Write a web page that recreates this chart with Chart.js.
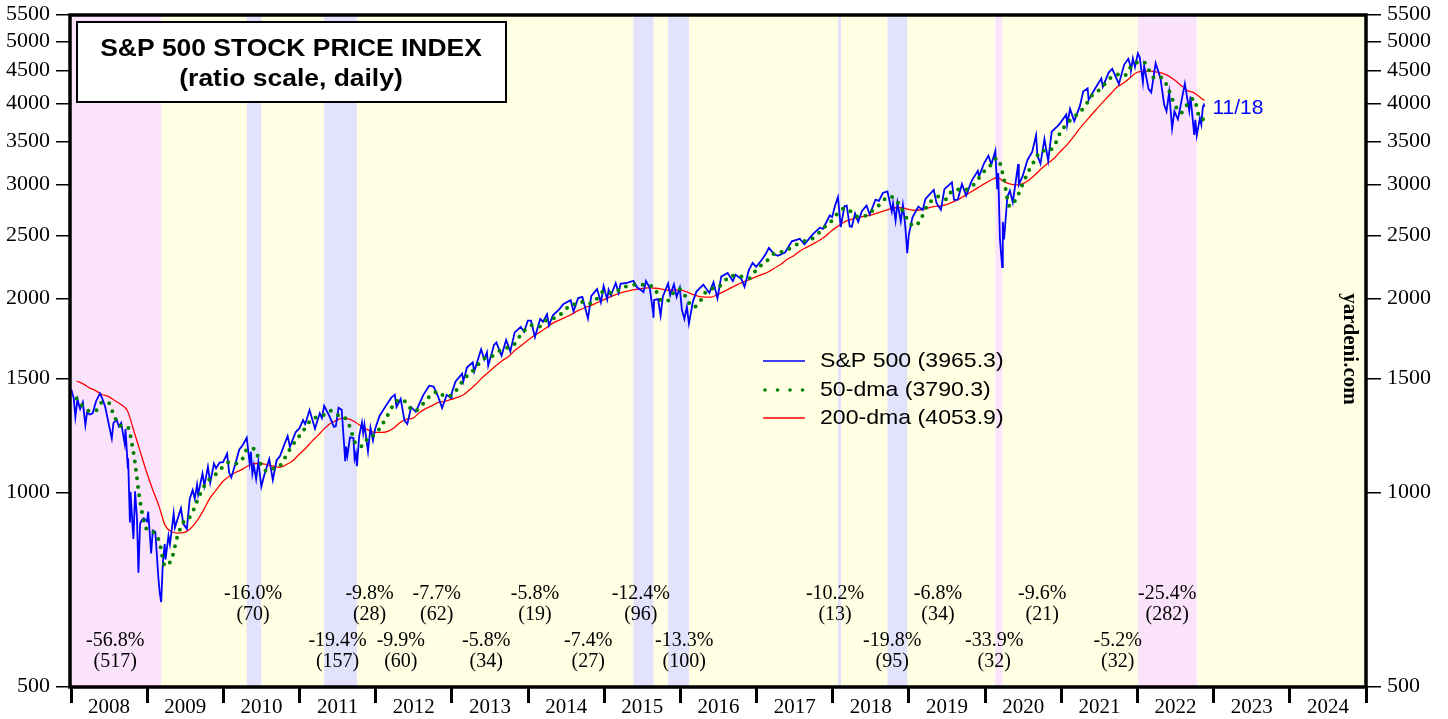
<!DOCTYPE html>
<html>
<head>
<meta charset="utf-8">
<script src="https://cdn.jsdelivr.net/npm/chart.js@4/dist/chart.umd.min.js"></script>
<style>
  html, body { margin: 0; padding: 0; background: #fff; }
  canvas { display: block; }
</style>
</head>
<body>
<canvas id="chart" width="1448" height="719"></canvas>
<script>
// S&P 500 Tageskurse (Stichproben)
const spxPoints = [
  ['2008-01-02',1447],['2008-01-14',1402],['2008-01-22',1310],['2008-02-01',1395],['2008-02-14',1348],['2008-02-27',1381],
  ['2008-03-10',1273],['2008-03-18',1330],['2008-03-31',1322],['2008-04-14',1328],['2008-04-30',1385],['2008-05-19',1426],
  ['2008-05-30',1400],['2008-06-13',1360],['2008-06-30',1280],['2008-07-15',1214],['2008-07-23',1283],['2008-08-08',1296],
  ['2008-08-18',1267],['2008-08-29',1283],['2008-09-15',1192],['2008-09-19',1255],['2008-09-29',1106],['2008-10-02',1114],
  ['2008-10-10',899],['2008-10-13',1003],['2008-10-22',896],['2008-10-27',848],['2008-11-04',1005],['2008-11-13',911],
  ['2008-11-20',752],['2008-11-28',896],['2008-12-08',909],['2008-12-16',913],['2008-12-31',903],
  ['2009-01-06',935],['2009-01-20',805],['2009-01-28',874],['2009-02-09',870],['2009-02-23',743],['2009-03-02',700],
  ['2009-03-09',677],['2009-03-17',778],['2009-03-26',833],['2009-03-30',788],['2009-04-13',858],['2009-04-20',832],
  ['2009-05-08',929],['2009-05-14',883],['2009-06-12',946],['2009-06-23',895],['2009-07-10',879],['2009-07-24',979],
  ['2009-08-07',1010],['2009-08-17',979],['2009-08-28',1029],['2009-09-02',994],['2009-09-23',1071],['2009-10-02',1025],
  ['2009-10-19',1097],['2009-10-30',1036],['2009-11-17',1110],['2009-11-27',1091],['2009-12-14',1114],['2009-12-31',1115],
  ['2010-01-19',1150],['2010-01-29',1074],['2010-02-08',1056],['2010-02-26',1104],['2010-03-18',1166],['2010-04-05',1187],
  ['2010-04-23',1217],['2010-05-07',1111],['2010-05-13',1157],['2010-05-20',1071],['2010-05-27',1103],['2010-06-07',1050],
  ['2010-06-18',1117],['2010-07-02',1022],['2010-07-16',1065],['2010-08-09',1128],['2010-08-26',1047],['2010-09-13',1122],
  ['2010-09-30',1141],['2010-10-15',1176],['2010-11-05',1225],['2010-11-16',1178],['2010-12-14',1242],['2010-12-31',1258],
  ['2011-01-18',1296],['2011-01-28',1277],['2011-02-18',1343],['2011-03-16',1257],['2011-04-08',1328],['2011-04-18',1305],
  ['2011-04-29',1364],['2011-05-23',1317],['2011-06-15',1265],['2011-06-24',1268],['2011-07-07',1354],['2011-07-22',1345],
  ['2011-08-08',1119],['2011-08-12',1179],['2011-08-18',1141],['2011-08-31',1219],['2011-09-16',1216],['2011-09-22',1129],
  ['2011-09-28',1151],['2011-10-03',1099],['2011-10-14',1225],['2011-10-27',1285],['2011-11-02',1237],['2011-11-08',1276],
  ['2011-11-25',1159],['2011-12-07',1261],['2011-12-19',1206],['2011-12-30',1258],
  ['2012-01-19',1314],['2012-02-17',1361],['2012-03-16',1404],['2012-04-02',1419],['2012-04-10',1358],['2012-04-30',1398],
  ['2012-05-18',1295],['2012-06-01',1278],['2012-06-19',1357],['2012-07-12',1335],['2012-07-31',1379],['2012-08-17',1418],
  ['2012-09-14',1465],['2012-10-05',1461],['2012-10-26',1412],['2012-11-15',1353],['2012-12-07',1418],['2012-12-28',1402],
  ['2012-12-31',1426],
  ['2013-01-18',1486],['2013-02-19',1530],['2013-02-25',1488],['2013-03-14',1563],['2013-04-11',1593],['2013-04-18',1541],
  ['2013-05-21',1669],['2013-06-05',1609],['2013-06-18',1651],['2013-06-24',1573],['2013-07-22',1695],['2013-08-02',1710],
  ['2013-08-27',1631],['2013-09-18',1725],['2013-10-08',1656],['2013-10-29',1772],['2013-11-27',1808],['2013-12-13',1775],
  ['2013-12-31',1848],
  ['2014-01-15',1848],['2014-02-03',1742],['2014-02-28',1859],['2014-03-14',1841],['2014-04-02',1890],['2014-04-11',1816],
  ['2014-04-30',1884],['2014-05-30',1924],['2014-06-20',1962],['2014-07-24',1988],['2014-08-07',1910],['2014-08-29',2003],
  ['2014-09-18',2011],['2014-10-15',1862],['2014-10-31',2018],['2014-11-28',2068],['2014-12-16',1973],['2014-12-29',2091],
  ['2015-01-15',1992],['2015-01-22',2063],['2015-02-02',2021],['2015-02-25',2114],['2015-03-11',2040],['2015-03-20',2108],
  ['2015-04-24',2117],['2015-05-21',2131],['2015-06-08',2080],['2015-06-29',2058],['2015-07-08',2046],['2015-07-20',2129],
  ['2015-08-07',2078],['2015-08-24',1893],['2015-08-25',1868],['2015-08-28',1989],['2015-09-16',1996],['2015-09-28',1882],
  ['2015-10-09',2015],['2015-11-03',2110],['2015-11-13',2023],['2015-12-01',2103],['2015-12-14',2012],['2015-12-29',2078],
  ['2016-01-08',1922],['2016-01-20',1859],['2016-02-01',1940],['2016-02-11',1829],['2016-03-01',1978],['2016-03-18',2050],
  ['2016-04-20',2102],['2016-05-19',2040],['2016-06-08',2119],['2016-06-27',2001],['2016-07-15',2162],['2016-08-15',2190],
  ['2016-09-09',2128],['2016-09-22',2178],['2016-10-21',2141],['2016-11-04',2085],['2016-11-25',2213],['2016-12-13',2271],
  ['2016-12-30',2239],
  ['2017-01-26',2297],['2017-02-15',2349],['2017-03-01',2396],['2017-03-27',2342],['2017-04-13',2329],['2017-05-17',2357],
  ['2017-06-19',2453],['2017-07-27',2475],['2017-08-18',2426],['2017-09-29',2519],['2017-10-31',2575],['2017-11-15',2565],
  ['2017-12-18',2690],['2017-12-29',2674],
  ['2018-01-12',2786],['2018-01-26',2873],['2018-02-05',2649],['2018-02-08',2581],['2018-02-26',2779],['2018-03-09',2786],
  ['2018-03-23',2588],['2018-04-02',2582],['2018-04-18',2708],['2018-05-03',2630],['2018-05-21',2733],['2018-06-12',2786],
  ['2018-06-27',2699],['2018-07-25',2846],['2018-08-10',2833],['2018-08-29',2914],['2018-09-20',2931],['2018-10-11',2728],
  ['2018-10-17',2809],['2018-10-29',2641],['2018-11-07',2814],['2018-11-23',2633],['2018-12-03',2790],['2018-12-14',2600],
  ['2018-12-24',2351],['2018-12-31',2507],
  ['2019-01-18',2671],['2019-02-15',2776],['2019-03-08',2743],['2019-03-21',2854],['2019-04-30',2946],['2019-05-13',2812],
  ['2019-06-03',2744],['2019-06-20',2954],['2019-07-26',3026],['2019-08-05',2844],['2019-08-23',2847],['2019-09-12',3009],
  ['2019-10-02',2887],['2019-10-28',3040],['2019-11-27',3154],['2019-12-03',3093],['2019-12-27',3240],
  ['2020-01-17',3330],['2020-01-31',3226],['2020-02-19',3386],['2020-02-28',2954],['2020-03-04',3130],['2020-03-12',2481],
  ['2020-03-16',2386],['2020-03-23',2237],['2020-03-26',2630],['2020-04-01',2470],['2020-04-17',2875],['2020-04-29',2939],
  ['2020-05-13',2820],['2020-06-08',3232],['2020-06-11',3002],['2020-06-30',3100],['2020-07-22',3276],['2020-08-14',3373],
  ['2020-09-02',3580],['2020-09-08',3332],['2020-09-23',3237],['2020-10-12',3534],['2020-10-30',3270],['2020-11-16',3627],
  ['2020-12-18',3709],['2020-12-31',3756],
  ['2021-01-25',3855],['2021-01-29',3714],['2021-02-12',3934],['2021-03-04',3768],['2021-03-31',3973],['2021-04-16',4185],
  ['2021-05-07',4232],['2021-05-12',4063],['2021-06-15',4246],['2021-07-12',4384],['2021-07-19',4258],['2021-08-16',4479],
  ['2021-09-02',4537],['2021-10-04',4300],['2021-10-29',4605],['2021-11-18',4704],['2021-11-30',4567],['2021-12-01',4513],
  ['2021-12-10',4712],['2021-12-20',4568],
  ['2022-01-03',4797],['2022-01-12',4726],['2022-01-27',4326],['2022-02-02',4589],['2022-02-23',4226],['2022-03-08',4171],
  ['2022-03-29',4632],['2022-04-21',4393],['2022-05-09',3991],['2022-05-20',3901],['2022-06-02',4177],['2022-06-16',3667],
  ['2022-06-27',3900],['2022-07-14',3790],['2022-08-16',4305],['2022-09-06',3909],['2022-09-12',4110],['2022-09-30',3586],
  ['2022-10-05',3783],['2022-10-12',3577],['2022-10-27',3807],['2022-11-03',3720],['2022-11-10',3956],['2022-11-15',3992],
  ['2022-11-18',3965]
];

// 50-Tage-Durchschnitt (Monatswerte)
const dma50Points = [
  ['2008-01',1400],['2008-02',1360],['2008-03',1340],['2008-04',1340],['2008-05',1380],['2008-06',1380],
  ['2008-07',1310],['2008-08',1270],['2008-09',1265],['2008-10',1150],['2008-11',970],['2008-12',880],
  ['2009-01',870],['2009-02',840],['2009-03',770],['2009-04',790],['2009-05',860],['2009-06',905],
  ['2009-07',920],['2009-08',970],['2009-09',1020],['2009-10',1050],['2009-11',1070],['2009-12',1095],
  ['2010-01',1115],['2010-02',1110],['2010-03',1120],['2010-04',1170],['2010-05',1170],['2010-06',1110],
  ['2010-07',1080],['2010-08',1090],['2010-09',1100],['2010-10',1140],['2010-11',1185],['2010-12',1220],
  ['2011-01',1260],['2011-02',1300],['2011-03',1310],['2011-04',1320],['2011-05',1340],['2011-06',1320],
  ['2011-07',1315],['2011-08',1270],['2011-09',1190],['2011-10',1180],['2011-11',1220],['2011-12',1230],
  ['2012-01',1270],['2012-02',1320],['2012-03',1370],['2012-04',1395],['2012-05',1380],['2012-06',1340],
  ['2012-07',1350],['2012-08',1390],['2012-09',1420],['2012-10',1435],['2012-11',1410],['2012-12',1415],
  ['2013-01',1450],['2013-02',1500],['2013-03',1530],['2013-04',1565],['2013-05',1610],['2013-06',1620],
  ['2013-07',1640],['2013-08',1670],['2013-09',1680],['2013-10',1700],['2013-11',1760],['2013-12',1800],
  ['2014-01',1820],['2014-02',1810],['2014-03',1850],['2014-04',1860],['2014-05',1880],['2014-06',1920],
  ['2014-07',1960],['2014-08',1960],['2014-09',1980],['2014-10',1965],['2014-11',2000],['2014-12',2050],
  ['2015-01',2040],['2015-02',2050],['2015-03',2080],['2015-04',2090],['2015-05',2100],['2015-06',2100],
  ['2015-07',2095],['2015-08',2080],['2015-09',1990],['2015-10',1980],['2015-11',2040],['2015-12',2070],
  ['2016-01',2010],['2016-02',1940],['2016-03',1960],['2016-04',2040],['2016-05',2070],['2016-06',2080],
  ['2016-07',2120],['2016-08',2170],['2016-09',2170],['2016-10',2160],['2016-11',2150],['2016-12',2210],
  ['2017-01',2260],['2017-02',2300],['2017-03',2350],['2017-04',2360],['2017-05',2380],['2017-06',2410],
  ['2017-07',2440],['2017-08',2460],['2017-09',2480],['2017-10',2530],['2017-11',2590],['2017-12',2640],
  ['2018-01',2720],['2018-02',2760],['2018-03',2730],['2018-04',2680],['2018-05',2680],['2018-06',2720],
  ['2018-07',2760],['2018-08',2830],['2018-09',2880],['2018-10',2850],['2018-11',2750],['2018-12',2640],
  ['2019-01',2590],['2019-02',2660],['2019-03',2780],['2019-04',2850],['2019-05',2880],['2019-06',2850],
  ['2019-07',2940],['2019-08',2950],['2019-09',2950],['2019-10',2980],['2019-11',3060],['2019-12',3150],
  ['2020-01',3220],['2020-02',3300],['2020-03',3100],['2020-04',2780],['2020-05',2850],['2020-06',3000],
  ['2020-07',3150],['2020-08',3280],['2020-09',3390],['2020-10',3380],['2020-11',3450],['2020-12',3620],
  ['2021-01',3730],['2021-02',3820],['2021-03',3880],['2021-04',3990],['2021-05',4130],['2021-06',4200],
  ['2021-07',4300],['2021-08',4400],['2021-09',4450],['2021-10',4420],['2021-11',4560],['2021-12',4640],
  ['2022-01',4660],['2022-02',4500],['2022-03',4380],['2022-04',4400],['2022-05',4230],['2022-06',4000],
  ['2022-07',3880],['2022-08',4000],['2022-09',4080],['2022-10',3800],['2022-11-18',3790]
];

// 200-Tage-Durchschnitt (Monatswerte)
const dma200Points = [
  ['2008-01',1490],['2008-02',1475],['2008-03',1455],['2008-04',1440],['2008-05',1420],['2008-06',1410],
  ['2008-07',1390],['2008-08',1370],['2008-09',1340],['2008-10',1250],['2008-11',1160],['2008-12',1080],
  ['2009-01',1010],['2009-02',950],['2009-03',890],['2009-04',870],['2009-05',866],['2009-06',868],
  ['2009-07',880],['2009-08',905],['2009-09',940],['2009-10',980],['2009-11',1010],['2009-12',1040],
  ['2010-01',1060],['2010-02',1075],['2010-03',1085],['2010-04',1100],['2010-05',1110],['2010-06',1110],
  ['2010-07',1105],['2010-08',1100],['2010-09',1095],['2010-10',1105],['2010-11',1120],['2010-12',1145],
  ['2011-01',1170],['2011-02',1200],['2011-03',1225],['2011-04',1255],['2011-05',1280],['2011-06',1295],
  ['2011-07',1305],['2011-08',1300],['2011-09',1285],['2011-10',1265],['2011-11',1250],['2011-12',1240],
  ['2012-01',1240],['2012-02',1245],['2012-03',1260],['2012-04',1285],['2012-05',1300],['2012-06',1305],
  ['2012-07',1330],['2012-08',1350],['2012-09',1365],['2012-10',1380],['2012-11',1385],['2012-12',1395],
  ['2013-01',1405],['2013-02',1420],['2013-03',1445],['2013-04',1475],['2013-05',1510],['2013-06',1540],
  ['2013-07',1570],['2013-08',1600],['2013-09',1625],['2013-10',1660],['2013-11',1690],['2013-12',1720],
  ['2014-01',1750],['2014-02',1775],['2014-03',1800],['2014-04',1830],['2014-05',1850],['2014-06',1870],
  ['2014-07',1890],['2014-08',1915],['2014-09',1935],['2014-10',1950],['2014-11',1970],['2014-12',1990],
  ['2015-01',2010],['2015-02',2030],['2015-03',2045],['2015-04',2055],['2015-05',2065],['2015-06',2072],
  ['2015-07',2078],['2015-08',2075],['2015-09',2070],['2015-10',2060],['2015-11',2060],['2015-12',2060],
  ['2016-01',2050],['2016-02',2030],['2016-03',2015],['2016-04',2010],['2016-05',2010],['2016-06',2030],
  ['2016-07',2050],['2016-08',2075],['2016-09',2100],['2016-10',2120],['2016-11',2140],['2016-12',2160],
  ['2017-01',2180],['2017-02',2200],['2017-03',2230],['2017-04',2260],['2017-05',2300],['2017-06',2330],
  ['2017-07',2370],['2017-08',2400],['2017-09',2430],['2017-10',2460],['2017-11',2500],['2017-12',2550],
  ['2018-01',2590],['2018-02',2630],['2018-03',2650],['2018-04',2670],['2018-05',2680],['2018-06',2690],
  ['2018-07',2710],['2018-08',2730],['2018-09',2750],['2018-10',2765],['2018-11',2765],['2018-12',2750],
  ['2019-01',2740],['2019-02',2745],['2019-03',2760],['2019-04',2775],['2019-05',2780],['2019-06',2795],
  ['2019-07',2820],['2019-08',2850],['2019-09',2890],['2019-10',2930],['2019-11',2970],['2019-12',3010],
  ['2020-01',3050],['2020-02',3080],['2020-03',3040],['2020-04',3010],['2020-05',3000],['2020-06',3010],
  ['2020-07',3050],['2020-08',3110],['2020-09',3180],['2020-10',3240],['2020-11',3300],['2020-12',3380],
  ['2021-01',3460],['2021-02',3560],['2021-03',3660],['2021-04',3760],['2021-05',3860],['2021-06',3960],
  ['2021-07',4060],['2021-08',4160],['2021-09',4260],['2021-10',4320],['2021-11',4400],['2021-12',4480],
  ['2022-01',4500],['2022-02',4505],['2022-03',4490],['2022-04',4470],['2022-05',4430],['2022-06',4360],
  ['2022-07',4280],['2022-08',4200],['2022-09',4170],['2022-10',4100],['2022-11-18',4054]
];

// Baerenmaerkte (rosa) und Korrekturen (lila)
const bearMarkets = [['2008-01-01','2009-03-09'],['2020-02-19','2020-03-23'],['2022-01-03','2022-10-12']];
const corrections = [['2010-04-23','2010-07-02'],['2011-04-29','2011-10-03'],['2015-05-21','2015-08-25'],
                     ['2015-11-03','2016-02-11'],['2018-01-26','2018-02-08'],['2018-09-20','2018-12-24']];

// Rueckgaenge: Prozent und Dauer in Tagen
const declinePct  = ['-56.8%','-16.0%','-19.4%','-9.8%','-9.9%','-7.7%','-5.8%','-5.8%','-7.4%',
                     '-12.4%','-13.3%','-10.2%','-19.8%','-6.8%','-33.9%','-9.6%','-5.2%','-25.4%'];
const declineDays = [517,70,157,28,60,62,34,19,27,96,100,13,95,34,32,21,32,282];
// Platzierung der Beschriftungen (Jahr, Zeile)
const declineLabelX = [2008.58,2010.39,2011.50,2011.92,2012.33,2012.80,2013.45,2014.09,2014.79,
                       2015.48,2016.05,2018.03,2018.78,2019.38,2020.12,2020.75,2021.74,2022.39];
const declineLabelRow = [1,0,1,0,1,0,1,0,1,0,1,0,1,0,1,0,1,0];

const yearTicks = [2008,2009,2010,2011,2012,2013,2014,2015,2016,2017,2018,2019,2020,2021,2022,2023,2024,2025];
const priceTicks = [500,1000,1500,2000,2500,3000,3500,4000,4500,5000,5500];

const legendLabels = ['S&P 500 (3965.3)', '50-dma (3790.3)', '200-dma (4053.9)'];
const lastDateLabel = '11/18';

const SERIF = '"Liberation Serif", "Times New Roman", serif';
const SANS = '"Liberation Sans", Arial, sans-serif';

/**
 * Wandelt ein Datum (YYYY-MM-DD oder YYYY-MM) in ein Dezimaljahr um
 */
function toYear(s) {
    const parts = s.split('-').map(Number);
    const y = parts[0], m = parts[1], d = parts.length > 2 ? parts[2] : 28;
    const t = Date.UTC(y, m - 1, d);
    const a = Date.UTC(y, 0, 1);
    const b = Date.UTC(y + 1, 0, 1);
    return y + (t - a) / (b - a);
}

function toXY(points) {
    return points.map(p => ({ x: toYear(p[0]), y: p[1] }));
}

// Text mit horizontaler Streckung zeichnen
function drawText(ctx, text, x, y, font, color, align, sx) {
    ctx.save();
    ctx.font = font;
    ctx.fillStyle = color;
    ctx.textAlign = align;
    ctx.textBaseline = 'middle';
    ctx.translate(x, y);
    ctx.scale(sx || 1, 1);
    ctx.fillText(text, 0, 0);
    ctx.restore();
}

const backgroundPlugin = {
    id: 'backgroundBands',
    beforeDraw(chart) {
        const ctx = chart.ctx;
        ctx.save();
        ctx.fillStyle = '#ffffff';
        ctx.fillRect(0, 0, chart.width, chart.height);
        ctx.restore();
    },
    beforeDatasetsDraw(chart) {
        const { ctx, chartArea: a, scales } = chart;
        ctx.save();
        ctx.fillStyle = '#ffffe3';
        ctx.fillRect(a.left, a.top, a.right - a.left, a.bottom - a.top);
        const band = (range, color) => {
            const x1 = scales.x.getPixelForValue(Math.max(toYear(range[0]), 2008));
            const x2 = scales.x.getPixelForValue(toYear(range[1]));
            ctx.fillStyle = color;
            ctx.fillRect(x1, a.top, Math.max(x2 - x1, 3), a.bottom - a.top);
        };
        bearMarkets.forEach(r => band(r, '#fce3fc'));
        corrections.forEach(r => band(r, '#e2e2fc'));
        ctx.restore();
    }
};

const decorPlugin = {
    id: 'decor',
    afterDatasetsDraw(chart) {
        const { ctx, chartArea: a, scales } = chart;

        // Rueckgangs-Beschriftungen
        declinePct.forEach((pct, i) => {
            const x = scales.x.getPixelForValue(declineLabelX[i]);
            const y = declineLabelRow[i] === 0 ? a.bottom - 93 : a.bottom - 46;
            drawText(ctx, pct, x, y, '20px ' + SERIF, '#000', 'center', 1);
            drawText(ctx, '(' + declineDays[i] + ')', x, y + 21, '20px ' + SERIF, '#000', 'center', 1);
        });

        // Titelbox
        ctx.save();
        ctx.fillStyle = '#fff';
        ctx.fillRect(77, 22, 429, 80);
        ctx.strokeStyle = '#000';
        ctx.lineWidth = 2;
        ctx.strokeRect(77, 22, 429, 80);
        ctx.restore();
        drawText(ctx, 'S&P 500 STOCK PRICE INDEX', 291, 50, 'bold 23px ' + SANS, '#000', 'center', 1.15);
        drawText(ctx, '(ratio scale, daily)', 291, 80, 'bold 23px ' + SANS, '#000', 'center', 1.15);

        // Legende
        const legendY = [361, 390, 418];
        ctx.save();
        ctx.lineWidth = 1.5;
        ctx.strokeStyle = '#0000ff';
        ctx.beginPath(); ctx.moveTo(763, legendY[0]); ctx.lineTo(805, legendY[0]); ctx.stroke();
        ctx.strokeStyle = '#ff0000';
        ctx.beginPath(); ctx.moveTo(763, legendY[2]); ctx.lineTo(805, legendY[2]); ctx.stroke();
        ctx.fillStyle = '#008000';
        for (let k = 0; k < 4; k++) {
            ctx.beginPath(); ctx.arc(765 + k * 12.5, legendY[1], 1.8, 0, Math.PI * 2); ctx.fill();
        }
        ctx.restore();
        legendLabels.forEach((t, i) => drawText(ctx, t, 820, legendY[i], '21px ' + SANS, '#000', 'left', 1.1));

        // Letztes Datum
        const last = spxPoints[spxPoints.length - 1];
        drawText(ctx, lastDateLabel, scales.x.getPixelForValue(toYear(last[0])) + 8,
                 scales.y.getPixelForValue(last[1]) + 1, '21px ' + SANS, '#0000ff', 'left', 1);

        // Rahmen
        ctx.save();
        ctx.strokeStyle = '#000';
        ctx.lineWidth = 3.5;
        ctx.strokeRect(a.left - 1, a.top, a.right - a.left + 1, a.bottom - a.top);
        ctx.restore();

        // Jahresbeschriftungen zwischen den Strichen
        for (let i = 0; i < yearTicks.length - 1; i++) {
            const x = (scales.x.getPixelForValue(yearTicks[i]) + scales.x.getPixelForValue(yearTicks[i + 1])) / 2;
            drawText(ctx, String(yearTicks[i]), x, a.bottom + 21, '20px ' + SERIF, '#000', 'center', 1.05);
        }

        // Achsenbeschriftungen links und rechts
        priceTicks.forEach(v => {
            const y = scales.y.getPixelForValue(v);
            drawText(ctx, String(v), a.left - 21, y, '20px ' + SERIF, '#000', 'right', 1.1);
            drawText(ctx, String(v), a.right + 21, y, '20px ' + SERIF, '#000', 'left', 1.1);
        });

        // Wasserzeichen
        ctx.save();
        ctx.translate(1349, 349);
        ctx.rotate(Math.PI / 2);
        ctx.scale(1.05, 1);
        ctx.font = 'bold 20px ' + SERIF;
        ctx.fillStyle = '#000';
        ctx.textAlign = 'center';
        ctx.textBaseline = 'middle';
        ctx.fillText('yardeni.com', 0, 0);
        ctx.restore();
    }
};

function logAxis(position, width) {
    return {
        type: 'logarithmic',
        position: position,
        min: 500,
        max: 5500,
        afterBuildTicks: s => { s.ticks = priceTicks.map(v => ({ value: v })); },
        afterFit: s => { s.width = width; },
        ticks: { display: false },
        grid: { drawOnChartArea: false, drawTicks: true, tickLength: 15, color: '#000', lineWidth: 1.5 },
        border: { display: false }
    };
}

new Chart(document.getElementById('chart'), {
    type: 'line',
    data: {
        datasets: [
            {
                label: '50-dma',
                data: toXY(dma50Points),
                borderColor: '#008000',
                borderWidth: 4,
                borderDash: [0, 8.5],
                borderCapStyle: 'round',
                cubicInterpolationMode: 'monotone',
                pointRadius: 0
            },
            {
                label: 'S&P 500',
                data: toXY(spxPoints),
                borderColor: '#0000ff',
                borderWidth: 1.8,
                pointRadius: 0,
                tension: 0
            },
            {
                label: '200-dma',
                data: toXY(dma200Points),
                borderColor: '#ff0000',
                borderWidth: 1.3,
                cubicInterpolationMode: 'monotone',
                pointRadius: 0
            }
        ]
    },
    options: {
        responsive: false,
        animation: false,
        parsing: true,
        layout: { padding: { top: 15, left: 0, right: 0, bottom: 0 } },
        plugins: {
            legend: { display: false },
            tooltip: { enabled: false }
        },
        scales: {
            x: {
                type: 'linear',
                min: 2008,
                max: 2025,
                afterBuildTicks: s => { s.ticks = yearTicks.map(v => ({ value: v })); },
                afterFit: s => { s.height = 32; },
                ticks: { display: false },
                grid: { drawOnChartArea: false, drawTicks: true, tickLength: 16, color: '#000', lineWidth: 3 },
                border: { display: false }
            },
            y: logAxis('left', 71),
            y2: logAxis('right', 82)
        }
    },
    plugins: [backgroundPlugin, decorPlugin]
});
</script>
</body>
</html>
